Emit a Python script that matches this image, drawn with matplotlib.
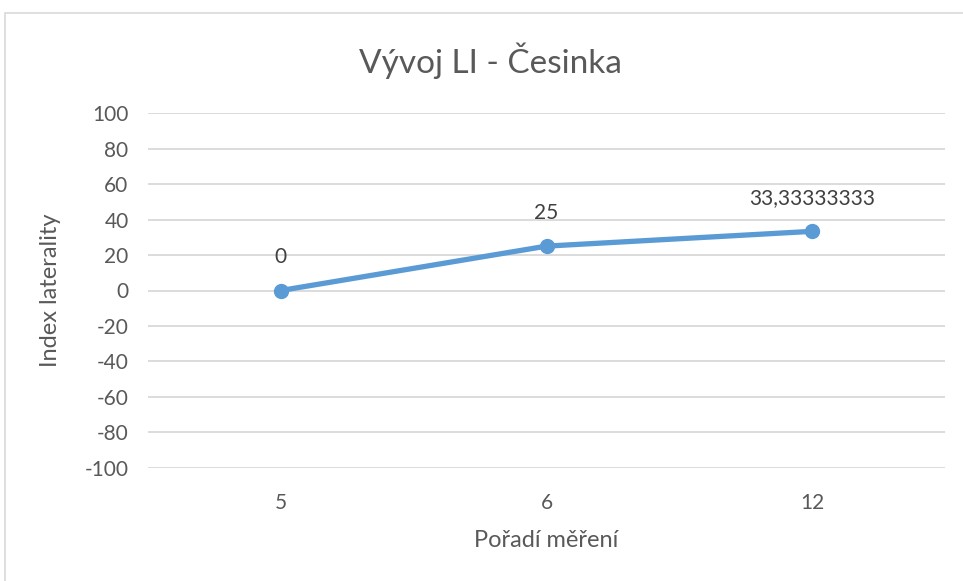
"""Vývoj LI - Česinka"""

import matplotlib
matplotlib.use('Agg')
from matplotlib import pyplot as plt
from matplotlib.patches import Rectangle

# Data
categories = ['5', '6', '12']
values = [0, 25, 33.33333333]
point_labels = ['0', '25', '33,33333333']
y_ticks = list(range(-100, 101, 20))

plt.rcParams['font.family'] = ['Lato', 'DejaVu Sans']
grey = '#595959'
blue = '#5B9BD5'

fig = plt.figure(figsize=(9.63, 5.81), dpi=100)
ax = fig.add_axes([0.1537, 0.1945, 0.8276, 0.611])

x = range(len(categories))
ax.plot(x, values, color=blue, lw=3.8, marker='o', markersize=10,
        solid_capstyle='round', zorder=3)
for xi, v, lab in zip(x, values, point_labels):
    ax.annotate(lab, (xi, v), xytext=(0, 17), textcoords='offset points',
                ha='center', va='bottom', fontsize=15, color='#404040')

# Axes format
ax.set_xlim(-0.5, len(categories) - 0.5)
ax.set_ylim(-100, 100)
ax.set_yticks(y_ticks)
ax.set_yticklabels([str(t) for t in y_ticks])
ax.set_xticks(list(x))
ax.set_xticklabels(categories)
ax.grid(axis='y', color='#D9D9D9', lw=1.3)
ax.set_axisbelow(True)
for s in ax.spines.values():
    s.set_visible(False)
ax.tick_params(axis='both', length=0, labelsize=15, labelcolor=grey)
ax.tick_params(axis='x', pad=18)
ax.tick_params(axis='y', pad=14)
ax.set_xlabel('Pořadí měření', fontsize=17, color=grey, labelpad=12)
ax.set_ylabel('Index laterality', fontsize=17, color=grey, labelpad=17)
fig.text(0.509, 0.895, 'Vývoj LI - Česinka', ha='center', va='center',
         fontsize=24, color=grey)

# Chart border
fig.patches.append(Rectangle((5 / 963, -0.1), 1.2, 1.1 - 13 / 581,
                             transform=fig.transFigure, fill=False,
                             edgecolor='#D9D9D9', lw=1.2))

fig.savefig('out.png', dpi=100)
